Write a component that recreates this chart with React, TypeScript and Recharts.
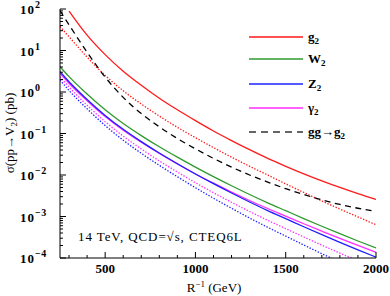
import { LineChart, Line, XAxis, YAxis } from "recharts";

// R^-1 in GeV
const massGeV = [250, 300, 400, 500, 600, 700, 800, 900, 1000, 1100, 1200, 1300, 1400, 1500, 1600, 1700, 1800, 1900, 2000];

// cross sections in pb (g2 is off the top of the frame at 250 GeV)
const g2 = [null, 89.1, 23.4, 7.94, 3.16, 1.45, 0.708, 0.372, 0.204, 0.115, 0.0676, 0.0407, 0.0251, 0.0162, 0.0107, 0.00724, 0.00501, 0.00355, 0.00257];
const g2Dotted = [38.0, 21.4, 6.92, 2.51, 1.07, 0.513, 0.263, 0.141, 0.0794, 0.0457, 0.0269, 0.0162, 0.01, 0.0061, 0.0038, 0.00237, 0.00151, 0.000977, 0.000631];
const ggToG2 = [91.2, 41.7, 9.12, 2.29, 0.741, 0.302, 0.145, 0.0759, 0.0427, 0.0251, 0.0155, 0.01, 0.00676, 0.00468, 0.00339, 0.00251, 0.00195, 0.00158, 0.00132];
const w2 = [4.07, 2.34, 0.891, 0.372, 0.174, 0.0891, 0.0479, 0.0269, 0.0155, 0.00912, 0.0055, 0.00339, 0.00214, 0.00138, 0.000891, 0.000582, 0.000385, 0.000257, 0.000174];
const z2 = [3.09, 1.77, 0.662, 0.273, 0.126, 0.0637, 0.0338, 0.0187, 0.0106, 0.00618, 0.00368, 0.00224, 0.00139, 0.000889, 0.000566, 0.000365, 0.000238, 0.000157, 0.000105];
const gamma2 = [2.82, 1.62, 0.615, 0.256, 0.12, 0.0614, 0.033, 0.0185, 0.0106, 0.00635, 0.00389, 0.00243, 0.00156, 0.00102, 0.000668, 0.000443, 0.000296, 0.000201, 0.000138];
const gamma2Dotted = [2.34, 1.32, 0.481, 0.193, 0.0865, 0.0425, 0.0219, 0.0118, 0.00652, 0.00374, 0.0022, 0.00132, 0.000809, 0.00051, 0.000321, 0.000204, 0.000131, 0.0000855, 0.0000562];
const z2Dotted = [1.95, 1.09, 0.393, 0.156, 0.0689, 0.0334, 0.0171, 0.00908, 0.00494, 0.00276, 0.00158, 0.00092, 0.00055, 0.000337, 0.000206, 0.000127, 0.0000796, 0.0000506, 0.0000324];

const xMajor = [500, 1000, 1500, 2000];
const xTicks = [300, 400, 500, 600, 700, 800, 900, 1000, 1100, 1200, 1300, 1400, 1500, 1600, 1700, 1800, 1900, 2000];
const yMajor = [1e-4, 1e-3, 1e-2, 1e-1, 1, 10, 100];
const yExponents = ["\u22124", "\u22123", "\u22122", "\u22121", "0", "1", "2"];
const yTicks = yMajor.slice(0, -1).flatMap((d) => [1, 2, 3, 4, 5, 6, 7, 8, 9].map((k) => d * k)).concat([100]);

const data = massGeV.map((m, i) => ({
  m,
  g2: g2[i],
  g2Dotted: g2Dotted[i],
  ggToG2: ggToG2[i],
  w2: w2[i],
  z2: z2[i],
  gamma2: gamma2[i],
  gamma2Dotted: gamma2Dotted[i],
  z2Dotted: z2Dotted[i],
}));

const RED = "#ff1a1a";
const GREEN = "#2e9a2e";
const BLUE = "#1f1fff";
const MAGENTA = "#ff2eff";

const series = [
  { key: "g2Dotted", color: RED, dash: "1.4 1.6" },
  { key: "z2Dotted", color: BLUE, dash: "1.4 1.6" },
  { key: "gamma2Dotted", color: MAGENTA, dash: "1.4 1.6" },
  { key: "ggToG2", color: "#000", dash: "6 4.5" },
  { key: "w2", color: GREEN },
  { key: "gamma2", color: MAGENTA },
  { key: "z2", color: BLUE },
  { key: "g2", color: RED },
];

const legendItems = [
  { name: "g", sub: "2", color: RED },
  { name: "W", sub: "2", color: GREEN },
  { name: "Z", sub: "2", color: BLUE },
  { name: "\u03b3", sub: "2", color: MAGENTA },
  { name: "gg\u2192g", sub: "2", color: "#333", dash: "7 5" },
];
const legendY = [37, 59, 84, 108, 132];

const FONT = "'Liberation Serif', 'DejaVu Serif', serif";

const isMajorY = (v: number) => yMajor.some((d) => Math.abs(v - d) / d < 1e-6);

function BottomTick(props: any) {
  const { x, y, payload } = props;
  const major = xMajor.includes(payload.value);
  return (
    <g>
      <line x1={x} x2={x} y1={y} y2={y - (major ? 6 : 3)} stroke="#000" />
      {major && (
        <text x={x} y={y + 15} textAnchor="middle" fontFamily={FONT} fontWeight="bold" fontSize={13} fill="#000">
          {payload.value}
        </text>
      )}
    </g>
  );
}

function TopTick(props: any) {
  const { x, y, payload } = props;
  const major = xMajor.includes(payload.value);
  return <line x1={x} x2={x} y1={y} y2={y + (major ? 6 : 3)} stroke="#000" />;
}

function LeftTick(props: any) {
  const { x, y, payload } = props;
  const major = isMajorY(payload.value);
  const idx = yMajor.findIndex((d) => Math.abs(payload.value - d) / d < 1e-6);
  return (
    <g>
      <line x1={x} x2={x + (major ? 6 : 3)} y1={y} y2={y} stroke="#000" />
      {major && (
        <text x={20} y={y + 5} fontFamily={FONT} fontWeight="bold" fontSize={13} fill="#000" letterSpacing={1}>
          10
          <tspan dy={-6} fontSize={10} letterSpacing={0.5}>
            {yExponents[idx]}
          </tspan>
        </text>
      )}
    </g>
  );
}

function RightTick(props: any) {
  const { x, y, payload } = props;
  const major = isMajorY(payload.value);
  return <line x1={x} x2={x - (major ? 6 : 3)} y1={y} y2={y} stroke="#000" />;
}

export default function App() {
  return (
    <div style={{ position: "absolute", left: 0, top: 0, width: 390, height: 296, background: "#fff" }}>
      <LineChart width={390} height={296} data={data} margin={{ top: 9, right: 14, bottom: 0, left: 0 }}>
        <XAxis
          xAxisId="bottom"
          dataKey="m"
          type="number"
          domain={[250, 2000]}
          allowDataOverflow
          ticks={xTicks}
          interval={0}
          height={38}
          tickLine={false}
          tickSize={0}
          tickMargin={0}
          axisLine={{ stroke: "#000" }}
          tick={<BottomTick />}
        />
        <XAxis
          xAxisId="top"
          orientation="top"
          dataKey="m"
          type="number"
          domain={[250, 2000]}
          allowDataOverflow
          ticks={xTicks}
          interval={0}
          height={0}
          tickLine={false}
          tickSize={0}
          tickMargin={0}
          axisLine={{ stroke: "#000" }}
          tick={<TopTick />}
        />
        <YAxis
          yAxisId="left"
          scale="log"
          type="number"
          domain={[1e-4, 100]}
          allowDataOverflow
          ticks={yTicks}
          interval={0}
          width={60}
          tickLine={false}
          tickSize={0}
          tickMargin={0}
          axisLine={{ stroke: "#000" }}
          tick={<LeftTick />}
        />
        <YAxis
          yAxisId="right"
          orientation="right"
          scale="log"
          type="number"
          domain={[1e-4, 100]}
          allowDataOverflow
          ticks={yTicks}
          interval={0}
          width={0}
          tickLine={false}
          tickSize={0}
          tickMargin={0}
          axisLine={{ stroke: "#000" }}
          tick={<RightTick />}
        />
        {series.map((s) => (
          <Line
            key={s.key}
            xAxisId="bottom"
            yAxisId="left"
            dataKey={s.key}
            type="monotone"
            stroke={s.color}
            strokeWidth={1.3}
            strokeDasharray={s.dash}
            dot={false}
            activeDot={false}
            isAnimationActive={false}
          />
        ))}
      </LineChart>
      <svg width={390} height={296} style={{ position: "absolute", left: 0, top: 0, pointerEvents: "none" }}>
        <text transform="translate(14,133) rotate(-90)" textAnchor="middle" fontFamily={FONT} fontSize={13} fill="#000">
          {"\u03c3(pp\u2192V"}
          <tspan dy={3} fontSize={9}>2</tspan>
          <tspan dy={-3}>) (pb)</tspan>
        </text>
        <text x={214} y={292} textAnchor="middle" fontFamily={FONT} fontSize={13} fill="#000">
          R<tspan dy={-5} fontSize={9}>{"\u22121"}</tspan>
          <tspan dy={5}> (GeV)</tspan>
        </text>
        <text x={78} y={241} fontFamily={FONT} fontSize={13} fill="#000" letterSpacing={0.9}>
          {"14 TeV, QCD=\u221as, CTEQ6L"}
        </text>
        {legendItems.map((it, i) => (
          <g key={it.name}>
            <line x1={249} x2={303} y1={legendY[i]} y2={legendY[i]} stroke={it.color} strokeWidth={1.3} strokeDasharray={it.dash} />
            <text x={308} y={legendY[i] + 4} fontFamily={FONT} fontWeight="bold" fontSize={13} fill="#000">
              {it.name}
              <tspan dy={3} fontSize={9}>{it.sub}</tspan>
            </text>
          </g>
        ))}
      </svg>
    </div>
  );
}
